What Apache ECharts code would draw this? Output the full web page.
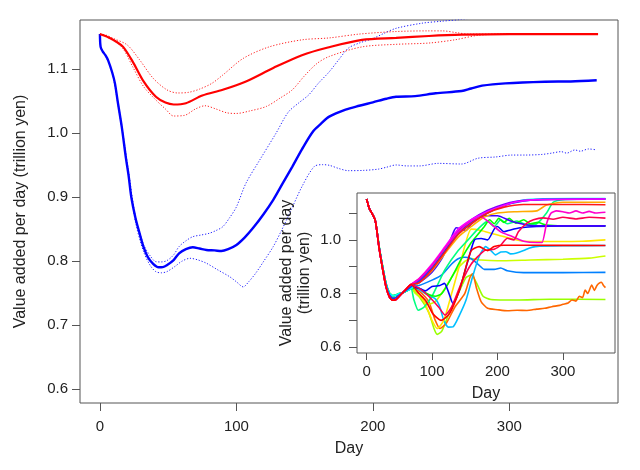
<!DOCTYPE html>
<html>
<head>
<meta charset="utf-8">
<script src="https://cdn.jsdelivr.net/npm/echarts@6/dist/echarts.min.js"></script>
<style>html,body{margin:0;padding:0;background:#fff}#c{width:640px;height:470px}</style>
</head>
<body>
<div id="c"></div>
<script>
// ---------- tick values ----------
const mainXTicks = [0, 100, 200, 300];
const mainYTicks = [0.6, 0.7, 0.8, 0.9, 1.0, 1.1];
const insetXTicks = [0, 100, 200, 300];
const insetYTicks = [0.6, 0.7, 0.8, 0.9, 1.0, 1.1];
const insetYLabels = [0.6, 0.8, 1.0];

// ---------- main chart series: [day, value] ----------
const redMean = [[0,1.155],[4,1.152],[7,1.149],[12,1.143],[17,1.135],[24,1.112],[32,1.081],[41,1.057],[48,1.048],[54,1.045],[63,1.047],[75,1.059],[90,1.068],[107,1.081],[127,1.102],[148,1.122],[167,1.134],[192,1.146],[217,1.149],[241,1.152],[265,1.154],[300,1.155],[365,1.155]];
const redUpper = [[0,1.155],[5,1.153],[10,1.148],[20,1.138],[29,1.115],[39,1.086],[49,1.068],[57,1.063],[65,1.064],[73,1.069],[82,1.078],[90,1.091],[105,1.117],[124,1.135],[148,1.146],[168,1.149],[190,1.155],[217,1.159],[240,1.160],[251,1.160],[262,1.157],[270,1.155],[300,1.155],[365,1.155]];
const redLower = [[0,1.155],[5,1.152],[10,1.146],[17,1.132],[24,1.104],[32,1.073],[41,1.052],[48,1.038],[54,1.027],[62,1.028],[70,1.038],[77,1.043],[85,1.038],[93,1.032],[100,1.031],[110,1.035],[122,1.042],[132,1.055],[141,1.068],[150,1.09],[159,1.109],[168,1.12],[192,1.135],[217,1.139],[241,1.141],[260,1.146],[277,1.153],[300,1.155],[365,1.155]];
const blueMean = [[0,1.155],[0.5,1.135],[2,1.128],[4,1.122],[6,1.114],[9,1.095],[11,1.078],[13,1.05],[16,1.01],[19,0.962],[21,0.934],[23,0.9],[26,0.868],[29,0.844],[32,0.822],[35,0.807],[39,0.796],[43,0.7906],[46,0.791],[49,0.794],[54,0.802],[58,0.8125],[63,0.819],[68,0.822],[73,0.82],[78,0.8177],[84,0.817],[89,0.816],[94,0.819],[100,0.8255],[106,0.837],[112,0.8515],[120,0.874],[127,0.896],[134,0.922],[141,0.948],[148,0.975],[156,1.0025],[162,1.015],[168,1.026],[180,1.037],[190,1.043],[200,1.0484],[210,1.054],[217,1.057],[231,1.058],[246,1.0625],[265,1.066],[272,1.07],[280,1.0744],[297,1.078],[326,1.0806],[345,1.081],[364,1.0828]];
const blueUpper = [[0,1.155],[0.5,1.135],[4,1.122],[9,1.095],[13,1.05],[16,1.012],[21,0.94],[26,0.87],[32,0.826],[37,0.808],[41,0.7994],[45,0.799],[49,0.801],[54,0.81],[58,0.823],[63,0.832],[68,0.8384],[74,0.841],[80,0.8437],[85,0.848],[90,0.854],[95,0.868],[100,0.885],[107,0.922],[117,0.958],[129,1.0],[138,1.033],[146,1.048],[153,1.06],[160,1.078],[168,1.096],[175,1.115],[182,1.133],[190,1.141],[200,1.148],[208,1.156],[217,1.164],[236,1.172],[250,1.175],[265,1.178],[290,1.185],[330,1.19],[365,1.195]];
const blueLower = [[0,1.155],[0.5,1.135],[4,1.122],[9,1.095],[13,1.048],[16,1.008],[21,0.935],[26,0.862],[32,0.815],[37,0.793],[41,0.7838],[45,0.782],[49,0.7838],[55,0.792],[60,0.8],[66,0.8047],[72,0.802],[78,0.797],[86,0.787],[95,0.776],[100,0.768],[105,0.76],[109,0.768],[114,0.781],[120,0.8],[127,0.823],[133,0.848],[139,0.875],[148,0.9166],[157,0.948],[163,0.951],[168,0.95],[175,0.945],[182,0.9416],[193,0.942],[204,0.944],[210,0.947],[217,0.9505],[225,0.949],[234,0.949],[248,0.953],[265,0.952],[277,0.961],[290,0.963],[302,0.966],[312,0.966],[324,0.967],[331,0.969],[338,0.9713],[342,0.969],[348,0.974],[352,0.972],[358,0.9755],[364,0.974]];

// ---------- inset: start variants + individual tails ----------
const insetStartMid = [[0,1.152],[2,1.135],[4,1.118],[8,1.1],[13,1.075],[16,1.03],[19,0.975],[25,0.89],[30,0.83],[35,0.795],[40,0.782],[45,0.785],[50,0.795],[58,0.808],[68,0.826]];
const insetStartLow = [[0,1.152],[2,1.135],[4,1.118],[8,1.1],[13,1.075],[16,1.03],[19,0.972],[25,0.885],[30,0.822],[35,0.787],[40,0.775],[45,0.778],[50,0.79],[58,0.81],[68,0.834]];
const insetStartHigh = [[0,1.152],[2,1.135],[4,1.118],[8,1.1],[13,1.075],[16,1.032],[19,0.978],[25,0.895],[30,0.835],[35,0.802],[40,0.792],[45,0.795],[50,0.8],[58,0.806],[68,0.818]];

const insetLime = [[80,0.79],[95,0.73],[103,0.67],[108,0.648],[115,0.66],[125,0.72],[140,0.8],[152,0.86],[160,0.869],[168,0.84],[178,0.79],[190,0.778],[230,0.776],[280,0.779],[365,0.778]];
const insetOrange = [[80,0.81],[95,0.77],[105,0.7],[112,0.67],[122,0.69],[135,0.75],[150,0.8],[158,0.86],[162,0.875],[168,0.82],[175,0.77],[185,0.745],[200,0.74],[215,0.736],[230,0.738],[245,0.737],[260,0.742],[272,0.745],[283,0.751],[295,0.756],[300,0.76],[308,0.765],[314,0.776],[320,0.772],[325,0.79],[330,0.785],[334,0.813],[338,0.8],[344,0.832],[348,0.812],[352,0.83],[355,0.838],[359,0.842],[362,0.83],[365,0.822]];
const insetYellowGreen = [[75,0.8],[85,0.78],[95,0.76],[105,0.77],[120,0.82],[135,0.88],[150,0.92],[160,0.93],[175,0.925],[200,0.922],[250,0.925],[300,0.928],[340,0.932],[365,0.94]];
const insetDodger = [[80,0.83],[100,0.85],[115,0.87],[130,0.91],[140,0.93],[150,0.935],[160,0.93],[170,0.91],[180,0.89],[195,0.89],[205,0.895],[215,0.885],[240,0.878],[300,0.878],[365,0.879]];
const insetSky = [[75,0.82],[90,0.8],[105,0.78],[112,0.75],[118,0.7],[125,0.675],[132,0.676],[142,0.72],[152,0.776],[162,0.863],[172,0.938],[182,0.975],[190,0.96],[197,0.944],[205,0.955],[213,0.956],[220,0.948],[228,0.95],[240,0.96],[248,0.969],[258,0.975],[300,0.978],[365,0.979]];
const insetYellow = [[80,0.8],[90,0.76],[100,0.7],[108,0.67],[118,0.7],[130,0.8],[145,0.93],[160,1.04],[175,1.035],[190,1.025],[210,1.012],[240,0.995],[290,0.994],[330,0.995],[365,1.0]];
const insetTeal = [[72,0.78],[79,0.738],[88,0.75],[100,0.79],[110,0.84],[120,0.89],[140,0.96],[155,1.0],[170,1.04],[185,1.07],[195,1.05],[205,1.075],[215,1.06],[230,1.07],[245,1.055],[260,1.06],[275,1.1],[285,1.14],[300,1.15],[365,1.152]];
const insetGreen = [[80,0.82],[92,0.8],[105,0.79],[115,0.8],[130,0.86],[145,0.93],[160,0.99],[170,1.02],[180,1.05],[188,1.075],[195,1.06],[202,1.08],[210,1.065],[218,1.08],[228,1.062],[240,1.075],[250,1.06],[262,1.065],[275,1.055],[300,1.052],[365,1.052]];
const insetBlue = [[80,0.82],[90,0.81],[100,0.826],[112,0.83],[119,0.838],[126,0.8],[132,0.763],[140,0.8],[150,0.88],[157,0.94],[165,1.0],[175,1.005],[185,1.0],[195,1.04],[200,1.05],[210,1.03],[220,1.037],[235,1.045],[260,1.05],[300,1.052],[365,1.052]];
const insetViolet = [[80,0.84],[100,0.88],[115,0.93],[125,0.98],[133,1.03],[137,1.045],[145,1.04],[152,1.035],[160,1.06],[180,1.09],[200,1.09],[220,1.07],[240,1.058],[260,1.052],[365,1.052]];
const insetGold = [[80,0.84],[100,0.885],[120,0.95],[140,1.01],[160,1.05],[180,1.085],[200,1.1],[230,1.105],[260,1.108],[275,1.13],[300,1.14],[365,1.14]];
const insetCyan = [[80,0.85],[100,0.9],[120,0.965],[140,1.03],[160,1.07],[185,1.105],[210,1.13],[240,1.148],[270,1.153],[365,1.154]];
const insetRoyal = [[80,0.845],[100,0.895],[120,0.96],[140,1.025],[160,1.065],[185,1.1],[210,1.128],[240,1.145],[270,1.151],[365,1.152]];
const insetPurple = [[80,0.85],[100,0.905],[120,0.97],[140,1.035],[160,1.075],[185,1.11],[210,1.133],[240,1.147],[365,1.152]];
const insetMagenta = [[80,0.855],[100,0.91],[120,0.975],[140,1.04],[160,1.075],[180,1.1],[200,1.12],[230,1.142],[260,1.15],[365,1.152]];
const insetPink = [[80,0.855],[100,0.905],[120,0.97],[140,1.03],[160,1.07],[175,1.085],[190,1.06],[205,1.03],[220,1.015],[240,0.995],[260,0.99],[268,0.99],[275,1.06],[282,1.1],[290,1.108],[300,1.105],[310,1.1],[320,1.108],[330,1.1],[340,1.106],[350,1.1],[365,1.103]];
const insetRose = [[80,0.84],[100,0.89],[120,0.955],[140,1.02],[160,1.06],[185,1.1],[210,1.122],[240,1.132],[300,1.132],[365,1.131]];
const insetCrimson = [[80,0.82],[95,0.79],[110,0.75],[120,0.72],[130,0.75],[145,0.84],[160,0.91],[180,0.96],[195,0.965],[205,0.98],[215,1.006],[225,1.0],[232,1.03],[245,1.062],[255,1.075],[270,1.082],[285,1.077],[300,1.084],[320,1.078],[340,1.084],[365,1.081]];
const insetRed = [[80,0.8],[90,0.775],[101,0.726],[114,0.7],[127,0.726],[142,0.813],[152,0.9],[160,0.96],[172,0.975],[185,0.96],[195,0.975],[210,0.98],[240,0.98],[365,0.979]];

const insetTails = [insetLime, insetOrange, insetYellowGreen, insetDodger, insetSky, insetYellow, insetTeal, insetGreen, insetBlue, insetViolet, insetGold, insetCyan, insetRoyal, insetPurple, insetMagenta, insetPink, insetRose, insetCrimson, insetRed];
const insetStarts = [insetStartHigh, insetStartMid, insetStartHigh, insetStartMid, insetStartHigh, insetStartMid, insetStartHigh, insetStartHigh, insetStartMid, insetStartMid, insetStartMid, insetStartHigh, insetStartMid, insetStartLow, insetStartLow, insetStartLow, insetStartLow, insetStartLow, insetStartLow];
const insetColors = ['#99ff00','#ff6600','#ccff00','#0080ff','#00bfff','#ffe600','#00ff80','#00ff00','#0000ff','#4000ff','#ffaa00','#00ffff','#0040ff','#8000ff','#ff00ff','#ff00cc','#ff1a1a','#ff0050','#ff0000'];

const FONT = 'Liberation Sans, Arial, Helvetica, sans-serif';
const TXT = '#222';
const AX = '#555';

const series = [
  {data: blueUpper, color:'#2020ff', width:1, dotted:true},
  {data: blueLower, color:'#2020ff', width:1, dotted:true},
  {data: redUpper, color:'#ff2020', width:1, dotted:true},
  {data: redLower, color:'#ff2020', width:1, dotted:true},
  {data: blueMean, color:'#0000ff', width:2.4, dotted:false},
  {data: redMean, color:'#ff0000', width:2.2, dotted:false}
].map(s => ({
  type:'line', xAxisIndex:0, yAxisIndex:0, data:s.data, showSymbol:false, smooth:0.3,
  lineStyle:{color:s.color, width:s.width, type: s.dotted ? [1.2,1.8] : 'solid'},
  silent:true, animation:false, z:3
}));

insetTails.forEach((tail, i) => {
  series.push({
    type:'line', xAxisIndex:1, yAxisIndex:1, data: insetStarts[i].concat(tail), showSymbol:false, smooth:0.2,
    lineStyle:{color: insetColors[i], width:1.6}, silent:true, animation:false, z:10
  });
});

const option = {
  animation:false,
  backgroundColor:'#fff',
  grid:[
    {left:80, top:20, width:538, height:383, show:true, borderColor:AX, borderWidth:1, backgroundColor:'transparent', outerBoundsMode:'none'},
    {left:357, top:193, width:258, height:160, show:true, borderColor:AX, borderWidth:1, backgroundColor:'#fff', outerBoundsMode:'none', z:5}
  ],
  xAxis:[
    {gridIndex:0, type:'value', min:-14.6, max:379.6,
      axisLine:{show:false, onZero:false}, splitLine:{show:false},
      axisTick:{show:true, length:8, lineStyle:{color:AX}, customValues: mainXTicks},
      axisLabel:{customValues: mainXTicks, margin:16, fontSize:15, color:TXT, fontFamily:FONT},
      name:'Day', nameLocation:'middle', nameGap:38, nameTextStyle:{fontSize:16, color:TXT, fontFamily:FONT}},
    {gridIndex:1, type:'value', min:-14.6, max:379.6, z:6,
      axisLine:{show:false, onZero:false}, splitLine:{show:false},
      axisTick:{show:true, length:7, lineStyle:{color:AX}, customValues: insetXTicks},
      axisLabel:{customValues: insetXTicks, margin:11, fontSize:15, color:TXT, fontFamily:FONT},
      name:'Day', nameLocation:'middle', nameGap:33, nameTextStyle:{fontSize:16, color:TXT, fontFamily:FONT}}
  ],
  yAxis:[
    {gridIndex:0, type:'value', min:0.5786, max:1.177,
      axisLine:{show:false, onZero:false}, splitLine:{show:false},
      axisTick:{show:true, length:8, lineStyle:{color:AX}, customValues: mainYTicks},
      axisLabel:{customValues: mainYTicks, margin:12, fontSize:15, color:TXT, fontFamily:FONT, formatter: v => v.toFixed(1)},
      name:'Value added per day (trillion yen)', nameLocation:'middle', nameGap:51, nameTextStyle:{fontSize:16, color:TXT, fontFamily:FONT}},
    {gridIndex:1, type:'value', min:0.5786, max:1.1746, z:6,
      axisLine:{show:false, onZero:false}, splitLine:{show:false},
      axisTick:{show:true, length:8, lineStyle:{color:AX}, customValues: insetYTicks},
      axisLabel:{customValues: insetYLabels, margin:16, fontSize:15, color:TXT, fontFamily:FONT, formatter: v => v.toFixed(1)},
      name:'Value added per day\n(trillion yen)', nameLocation:'middle', nameGap:43, nameTextStyle:{fontSize:16, lineHeight:18, color:TXT, fontFamily:FONT}}
  ],
  series: series
};

const chart = echarts.init(document.getElementById('c'), null, {renderer:'canvas'});
chart.setOption(option);
</script>
</body>
</html>
